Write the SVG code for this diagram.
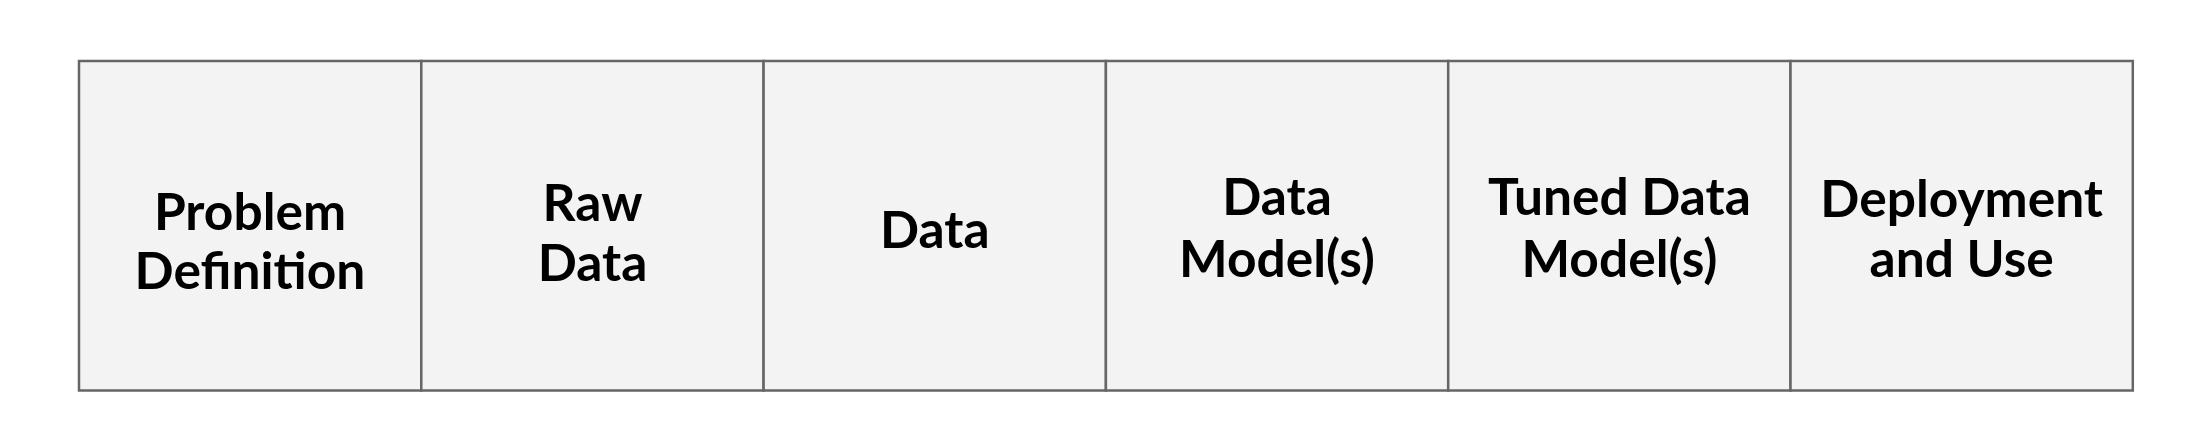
<svg xmlns="http://www.w3.org/2000/svg" width="2208" height="440" viewBox="0 0 2208 440">
<style>
.box{fill:#f3f3f3;stroke:#666666;stroke-width:2.5}
.lbl{font-family:Lato,"Liberation Sans",sans-serif;font-weight:700;font-size:51.5px;fill:#000;text-anchor:middle}
</style>
<rect width="2208" height="440" fill="#ffffff"/>
<g id="n1"><rect class="box" x="79" y="61" width="342.3" height="329.5"/><text class="lbl" x="250" y="230">Problem</text><text class="lbl" x="250" y="289">Definition</text></g>
<g id="n2"><rect class="box" x="421.3" y="61" width="342.3" height="329.5"/><text class="lbl" x="592.5" y="221">Raw</text><text class="lbl" x="592.5" y="281">Data</text></g>
<g id="n3"><rect class="box" x="763.6" y="61" width="342.3" height="329.5"/><text class="lbl" x="934.8" y="248">Data</text></g>
<g id="n4"><rect class="box" x="1105.9" y="61" width="342.3" height="329.5"/><text class="lbl" x="1277" y="215">Data</text><text class="lbl" x="1277" y="276.5">Model(s)</text></g>
<g id="n5"><rect class="box" x="1448.2" y="61" width="342.3" height="329.5"/><text class="lbl" x="1619.4" y="215">Tuned Data</text><text class="lbl" x="1619.4" y="276.5">Model(s)</text></g>
<g id="n6"><rect class="box" x="1790.5" y="61" width="342.3" height="329.5"/><text class="lbl" x="1961.7" y="216.5">Deployment</text><text class="lbl" x="1961.7" y="276.5">and Use</text></g>
<g id="connectors"></g>
</svg>
